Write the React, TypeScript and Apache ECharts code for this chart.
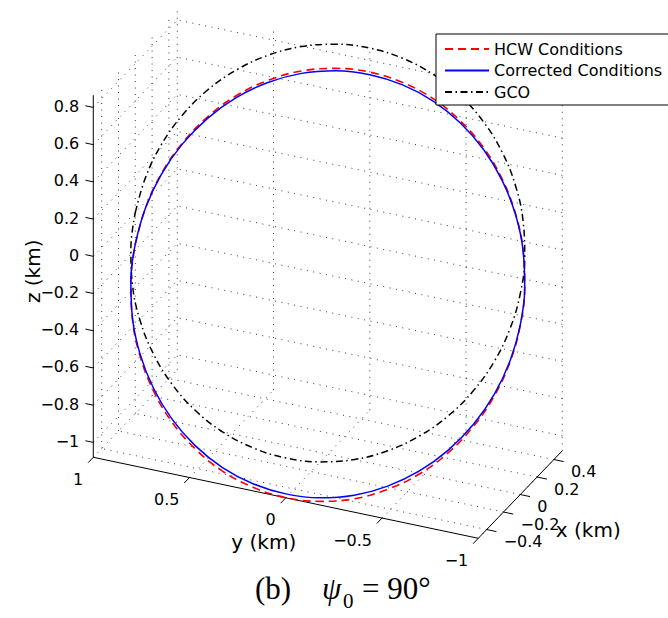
import React, { useEffect, useRef } from "react";
import * as echarts from "echarts";

// ---- axis limits & ticks (km) ----
const X_LIM = [-0.5, 0.5];
const Y_LIM = [-1, 1];
const Z_LIM = [-1.08, 0.866];
const X_TICKS = [-0.4, -0.2, 0, 0.2, 0.4];
const Y_TICKS = [1, 0.5, 0, -0.5, -1];
const Z_TICKS = [-1, -0.8, -0.6, -0.4, -0.2, 0, 0.2, 0.4, 0.6, 0.8];

// ---- orbit samples (x, y, z in km) ----
const GCO_X = [0, 0.087, 0.171, 0.25, 0.321, 0.383, 0.433, 0.47, 0.492, 0.5, 0.492, 0.47, 0.433, 0.383, 0.321, 0.25, 0.171, 0.087, 0, -0.087, -0.171, -0.25, -0.321, -0.383, -0.433, -0.47, -0.492, -0.5, -0.492, -0.47, -0.433, -0.383, -0.321, -0.25, -0.171, -0.087, 0];
const GCO_Y = [1, 0.985, 0.94, 0.866, 0.766, 0.643, 0.5, 0.342, 0.174, 0, -0.174, -0.342, -0.5, -0.643, -0.766, -0.866, -0.94, -0.985, -1, -0.985, -0.94, -0.866, -0.766, -0.643, -0.5, -0.342, -0.174, 0, 0.174, 0.342, 0.5, 0.643, 0.766, 0.866, 0.94, 0.985, 1];
const GCO_Z = [0, 0.15, 0.296, 0.433, 0.557, 0.663, 0.75, 0.814, 0.853, 0.866, 0.853, 0.814, 0.75, 0.663, 0.557, 0.433, 0.296, 0.15, 0, -0.15, -0.296, -0.433, -0.557, -0.663, -0.75, -0.814, -0.853, -0.866, -0.853, -0.814, -0.75, -0.663, -0.557, -0.433, -0.296, -0.15, 0];

const HCW_X = [0, 0.087, 0.171, 0.25, 0.321, 0.383, 0.433, 0.47, 0.492, 0.5, 0.492, 0.47, 0.433, 0.383, 0.321, 0.25, 0.171, 0.087, 0, -0.087, -0.171, -0.25, -0.321, -0.383, -0.433, -0.47, -0.492, -0.5, -0.492, -0.47, -0.433, -0.383, -0.321, -0.25, -0.171, -0.087, 0];
const HCW_Y = [1, 0.985, 0.94, 0.866, 0.766, 0.643, 0.5, 0.342, 0.174, 0, -0.174, -0.342, -0.5, -0.643, -0.766, -0.866, -0.94, -0.985, -1, -0.985, -0.94, -0.866, -0.766, -0.643, -0.5, -0.342, -0.174, 0, 0.174, 0.342, 0.5, 0.643, 0.766, 0.866, 0.94, 0.985, 1];
const HCW_Z = [-0.171, -0.013, 0.14, 0.283, 0.413, 0.525, 0.615, 0.683, 0.723, 0.737, 0.723, 0.683, 0.615, 0.525, 0.413, 0.283, 0.14, -0.013, -0.171, -0.329, -0.482, -0.625, -0.755, -0.867, -0.957, -1.025, -1.065, -1.079, -1.065, -1.025, -0.957, -0.867, -0.755, -0.625, -0.482, -0.329, -0.171];

const COR_X = [0, 0.087, 0.171, 0.25, 0.321, 0.383, 0.433, 0.47, 0.492, 0.5, 0.492, 0.47, 0.433, 0.383, 0.321, 0.25, 0.171, 0.087, 0, -0.087, -0.171, -0.25, -0.321, -0.383, -0.433, -0.47, -0.492, -0.5, -0.492, -0.47, -0.433, -0.383, -0.321, -0.25, -0.171, -0.087, 0];
const COR_Y = [1, 0.985, 0.94, 0.866, 0.766, 0.643, 0.5, 0.342, 0.174, 0, -0.174, -0.342, -0.5, -0.643, -0.766, -0.866, -0.94, -0.985, -1, -0.985, -0.94, -0.866, -0.766, -0.643, -0.5, -0.342, -0.174, 0, 0.174, 0.342, 0.5, 0.643, 0.766, 0.866, 0.94, 0.985, 1];
const COR_Z = [-0.168, -0.013, 0.137, 0.278, 0.405, 0.515, 0.604, 0.67, 0.71, 0.723, 0.71, 0.67, 0.604, 0.515, 0.405, 0.278, 0.137, -0.013, -0.168, -0.323, -0.473, -0.614, -0.741, -0.851, -0.94, -1.006, -1.046, -1.059, -1.046, -1.006, -0.94, -0.851, -0.741, -0.614, -0.473, -0.323, -0.168];

// ---- orthographic view (screen shift per km along each axis, in z-units) ----
const VIEW = { xh: 84 / 186.1, xv: 87.5 / 186.1, yh: -192.5 / 186.1, yv: 40.5 / 186.1 };
const PLANE_H = [-1.7614, 1.8281];
const PLANE_V = [-1.961, 1.3597];

const proj = (x: number, y: number, z: number) => [
  VIEW.xh * x + VIEW.yh * y,
  z + VIEW.xv * x + VIEW.yv * y,
];
const toPlane = (xs: number[], ys: number[], zs: number[]) =>
  xs.map((x, i) => proj(x, ys[i], zs[i]));

const fmt = (v: number) => (v < 0 ? "\u2212" : "") + String(Math.abs(v));

const SANS = "DejaVu Sans";
const SERIF = "Liberation Serif";

function renderBox(_params: any, api: any) {
  const P = (x: number, y: number, z: number) => api.coord(proj(x, y, z));
  const [x0, x1] = X_LIM;
  const [y0, y1] = Y_LIM;
  const [z0, z1] = Z_LIM;
  const children: any[] = [];
  const dotted = { stroke: "#3a3a3a", lineWidth: 1, lineDash: [1, 5.5], fill: null };
  const solid = { stroke: "#000", lineWidth: 1, fill: null };
  const line = (a: number[], b: number[], style: any) =>
    children.push({ type: "line", shape: { x1: a[0], y1: a[1], x2: b[0], y2: b[1] }, style });
  const unit = (a: number[], b: number[]) => {
    const dx = b[0] - a[0], dy = b[1] - a[1];
    const l = Math.hypot(dx, dy);
    return [dx / l, dy / l];
  };
  const text = (t: string, x: number, y: number, align: string, size = 16, rotation = 0) =>
    children.push({
      type: "text",
      x, y, rotation,
      style: { text: t, fill: "#000", fontSize: size, fontFamily: SANS, align, verticalAlign: "middle" },
    });

  // grid on back walls and floor
  Y_TICKS.forEach((y) => line(P(x1, y, z0), P(x1, y, z1), dotted));
  Z_TICKS.forEach((z) => line(P(x1, y0, z), P(x1, y1, z), dotted));
  X_TICKS.forEach((x) => line(P(x, y1, z0), P(x, y1, z1), dotted));
  Z_TICKS.forEach((z) => line(P(x0, y1, z), P(x1, y1, z), dotted));
  X_TICKS.forEach((x) => line(P(x, y0, z0), P(x, y1, z0), dotted));
  Y_TICKS.forEach((y) => line(P(x0, y, z0), P(x1, y, z0), dotted));

  // axis lines
  line(P(x0, y1, z0), P(x0, y1, z1), solid);
  line(P(x0, y1, z0), P(x0, y0, z0), solid);
  line(P(x0, y0, z0), P(x1, y0, z0), solid);

  // z ticks (point toward +y)
  const dz = unit(P(x0, y1, z0), P(x0, y1 + 1, z0));
  Z_TICKS.forEach((z) => {
    const b = P(x0, y1, z);
    line(b, [b[0] + dz[0] * 8, b[1] + dz[1] * 8], solid);
    text(fmt(z), b[0] - 14, b[1] - 1, "right");
  });
  // y ticks (point toward -x)
  const dy = unit(P(x0, y0, z0), P(x0 - 1, y0, z0));
  Y_TICKS.forEach((y) => {
    const b = P(x0, y, z0);
    line(b, [b[0] + dy[0] * 7.5, b[1] + dy[1] * 7.5], solid);
    text(fmt(y), b[0] - 10, b[1] + 22, "right");
  });
  // x ticks (point toward -y)
  const dx = unit(P(x0, y0, z0), P(x0, y0 - 1, z0));
  X_TICKS.forEach((x) => {
    const b = P(x, y0, z0);
    line(b, [b[0] + dx[0] * 10, b[1] + dx[1] * 10], solid);
    text(fmt(x), b[0] + 17, b[1] + 12, "left");
  });

  // axis titles
  const zb = P(x0, y1, 0);
  text("z (km)", zb[0] - 60, zb[1] + 15, "center", 20, Math.PI / 2);
  const yb = P(x0, 0, z0);
  text("y (km)", yb[0] - 22, yb[1] + 44, "center", 20);
  const xb = P(0, y0, z0);
  text("x (km)", xb[0] + 68, xb[1] + 35, "center", 20);

  return { type: "group", children };
}

export default function App() {
  const ref = useRef<HTMLDivElement>(null);
  useEffect(() => {
    document.body.style.margin = "0";
    const chart = echarts.init(ref.current!, undefined, { renderer: "svg" });
    chart.setOption({
      animation: false,
      backgroundColor: "#fff",
      grid: { left: 0, top: 0, width: 668, height: 618 },
      xAxis: { type: "value", min: PLANE_H[0], max: PLANE_H[1], show: false },
      yAxis: { type: "value", min: PLANE_V[0], max: PLANE_V[1], show: false },
      legend: {
        left: 436,
        top: 34,
        orient: "vertical",
        backgroundColor: "#fff",
        borderColor: "#000",
        borderWidth: 1,
        borderRadius: 0,
        padding: [7, 24, 5, 8],
        itemWidth: 44,
        itemHeight: 14,
        itemGap: 5.5,
        itemStyle: { opacity: 0 },
        textStyle: { fontFamily: SANS, fontSize: 16, color: "#000" },
        data: ["HCW Conditions", "Corrected Conditions", "GCO"],
        z: 10,
      },
      graphic: [
        { type: "text", left: 255, top: 573, style: { text: "(b)", fontFamily: SERIF, fontSize: 31, fill: "#000" } },
        { type: "text", left: 322, top: 573, style: { text: "\u03c8", fontFamily: SERIF, fontStyle: "italic", fontSize: 31, fill: "#000" } },
        { type: "text", left: 343, top: 590, style: { text: "0", fontFamily: SERIF, fontSize: 21, fill: "#000" } },
        { type: "text", left: 362, top: 573, style: { text: "= 90\u00b0", fontFamily: SERIF, fontSize: 31, fill: "#000" } },
      ],
      series: [
        {
          type: "custom",
          renderItem: renderBox,
          data: [[0, 0]],
          silent: true,
          z: 1,
        },
        {
          type: "line",
          name: "HCW Conditions",
          data: toPlane(HCW_X, HCW_Y, HCW_Z),
          symbol: "none",
          smooth: 0.4,
          lineStyle: { color: "#ff0000", width: 1.6, type: [8, 5] },
          itemStyle: { color: "#ff0000" },
          z: 3,
        },
        {
          type: "line",
          name: "Corrected Conditions",
          data: toPlane(COR_X, COR_Y, COR_Z),
          symbol: "none",
          smooth: 0.4,
          lineStyle: { color: "#0000ff", width: 1.5, type: "solid" },
          itemStyle: { color: "#0000ff" },
          z: 4,
        },
        {
          type: "line",
          name: "GCO",
          data: toPlane(GCO_X, GCO_Y, GCO_Z),
          symbol: "none",
          smooth: 0.4,
          lineStyle: { color: "#000", width: 1.5, type: [7, 3.5, 1.5, 3.5] },
          itemStyle: { color: "#000" },
          z: 3,
        },
      ],
    });
    return () => chart.dispose();
  }, []);
  return <div ref={ref} style={{ width: 668, height: 618 }} />;
}
